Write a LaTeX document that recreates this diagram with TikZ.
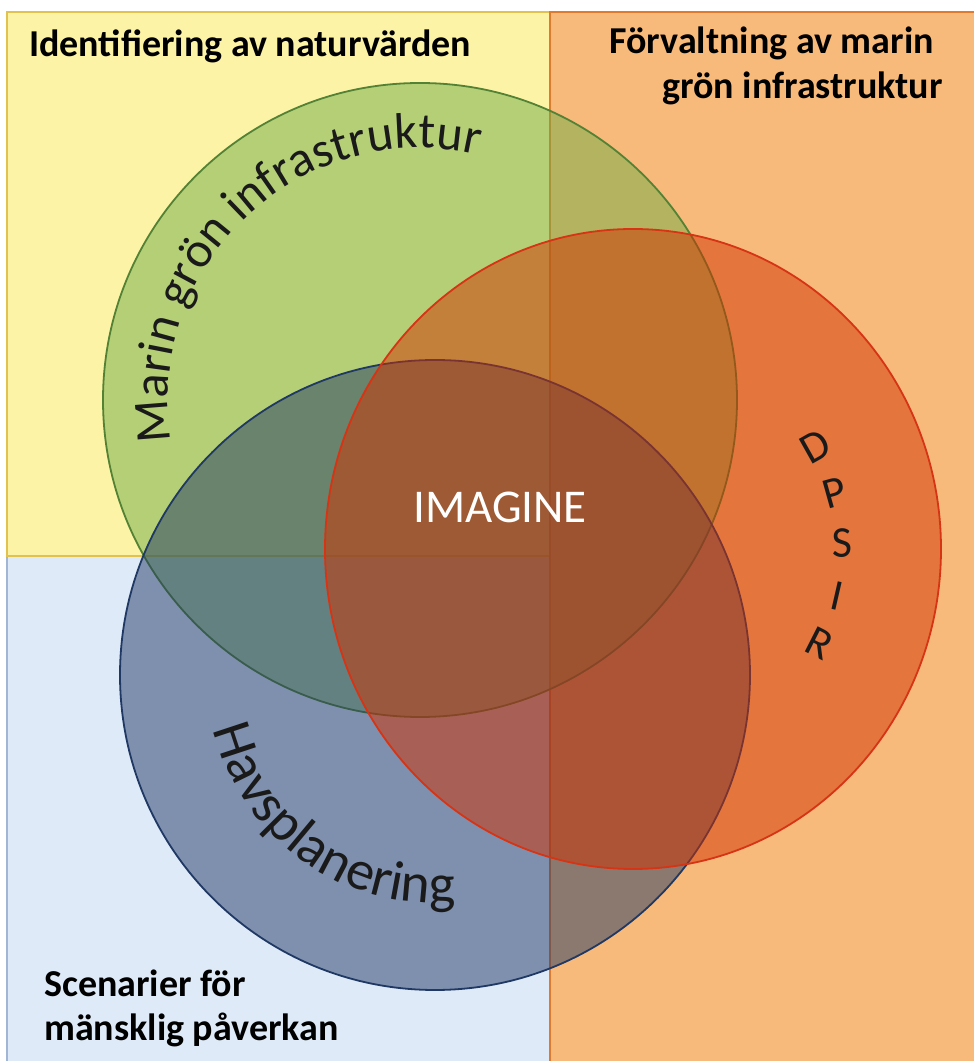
\documentclass[tikz,border=0pt]{standalone}
\usepackage{fontspec}
\setmainfont{Carlito}
\usetikzlibrary{decorations.text}

% background zones
\definecolor{bgyellow}{RGB}{252,243,166}
\definecolor{bgyellowline}{RGB}{226,194,78}
\definecolor{bgorange}{RGB}{248,186,122}
\definecolor{bgorangeline}{RGB}{224,122,46}
\definecolor{bgblue}{RGB}{222,234,247}
\definecolor{bgblueline}{RGB}{160,182,212}
% overlapping circles
\definecolor{mgreen}{RGB}{112,173,71}
\definecolor{mgreenline}{RGB}{84,130,53}
\definecolor{mred}{RGB}{210,50,0}
\definecolor{mredline}{RGB}{214,52,20}
\definecolor{mblue}{RGB}{31,56,100}
\definecolor{mblueline}{RGB}{32,56,100}
\definecolor{labeldark}{RGB}{26,26,26}

\begin{document}
\begin{tikzpicture}[x=1pt,y=1pt,
  zone/.style={line width=1.1pt},
  ring/.style={line width=1.8pt, fill opacity=0.5},
  cornerlabel/.style={font=\bfseries\fontsize{38}{45}\selectfont, inner sep=0pt, text=black},
  dpsirletter/.style={font=\fontsize{44}{52}\selectfont, inner sep=0pt, text=labeldark},
]
\useasboundingbox (0,0) rectangle (974,1061);
\clip (0,0) rectangle (974,1061);
\fill[white] (0,0) rectangle (974,1061);

% zones
\draw[zone, fill=bgblue, draw=bgblueline] (7,-5) rectangle (550,505);
\draw[zone, fill=bgyellow, draw=bgyellowline] (7,505) rectangle (550,1049);
\draw[zone, fill=bgorange, draw=bgorangeline] (550,-5) rectangle (980,1049);

% circle centres
\coordinate (gc) at (420,661);
\coordinate (bc) at (435,386);
\coordinate (rc) at (633,512);

% circles
\draw[ring, fill=mgreen, draw=mgreenline] (gc) circle[radius=317];
\draw[ring, fill=mblue, draw=mblueline] (bc) circle[radius=315];
\draw[ring, fill=mred, draw=mredline] (rc) ellipse[x radius=308, y radius=320];

% curved circle labels
\path[decorate, decoration={text along path, text align=center,
  text={|\fontsize{50}{60}\selectfont\color{labeldark}|Marin grön infrastruktur}}]
  (gc) ++(201:252) arc[start angle=201, end angle=65, radius=252];
\path[decorate, decoration={text along path, text align=center,
  text={|\fontsize{56}{66}\selectfont\color{labeldark}|Havsplanering}}]
  (bc) ++(174.5:228) arc[start angle=174.5, end angle=294.5, radius=228];

% DPSIR letters stacked along the red circle
\foreach \ch/\a [count=\i] in {D/29.3, P/15.6, S/1.6, I/-12.9, R/-26.9}
  \node[dpsirletter, rotate=\a] (dpsir-\i) at ([shift={(\a:209)}]rc) {\ch};

% centre label
\node[anchor=base, text=white, font=\fontsize{47}{56}\selectfont, inner sep=0pt]
  (imagine) at (500,538) {IMAGINE};

% zone labels
\node[cornerlabel, anchor=base west] (natur) at (29,1004) {Identifiering av naturvärden};
\node[cornerlabel, anchor=base east] (forv1) at (934,1007) {Förvaltning av marin};
\node[cornerlabel, anchor=base east] (forv2) at (943,962) {grön infrastruktur};
\node[cornerlabel, anchor=base west] (scen1) at (44,64) {Scenarier för};
\node[cornerlabel, anchor=base west] (scen2) at (44,20) {mänsklig påverkan};
\end{tikzpicture}
\end{document}
